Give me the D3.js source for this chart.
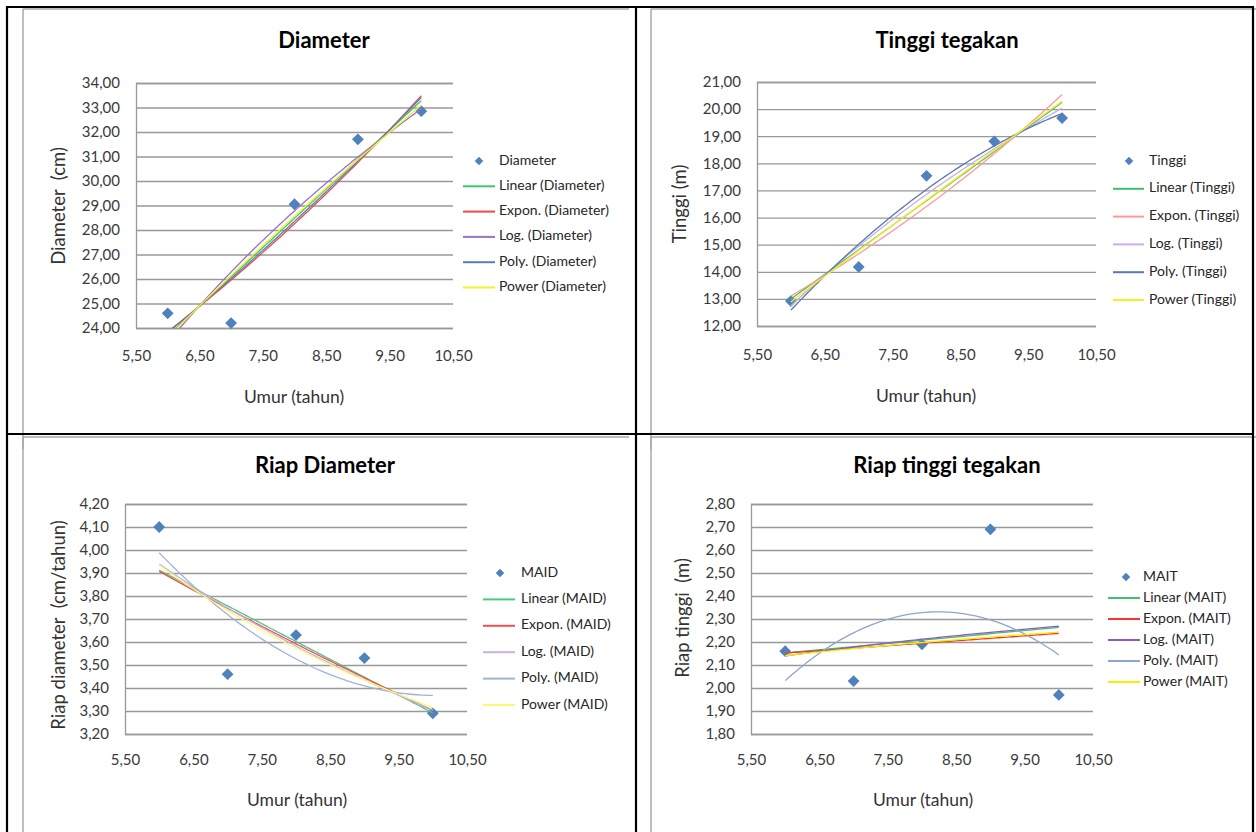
<!DOCTYPE html>
<html>
<head>
<meta charset="utf-8">
<script src="https://cdn.jsdelivr.net/npm/d3@7"></script>
<style>
  body { margin: 0; background: #fff; }
  svg { display: block; font-family: Lato, "Open Sans", sans-serif; }
</style>
</head>
<body>
<svg id="page" width="1256" height="832"></svg>
<script>
// data
var umur = [6, 7, 8, 9, 10];
var diameter = [24.6, 24.2, 29.05, 31.7, 32.85];
var tinggi = [12.92, 14.18, 17.54, 18.81, 19.67];
var maid = [4.10, 3.46, 3.63, 3.53, 3.29];
var mait = [2.16, 2.03, 2.19, 2.69, 1.97];

var xTicks = [5.5, 6.5, 7.5, 8.5, 9.5, 10.5];
var diameterTicks = [24, 25, 26, 27, 28, 29, 30, 31, 32, 33, 34];
var tinggiTicks = [12, 13, 14, 15, 16, 17, 18, 19, 20, 21];
var maidTicks = [3.2, 3.3, 3.4, 3.5, 3.6, 3.7, 3.8, 3.9, 4.0, 4.1, 4.2];
var maitTicks = [1.8, 1.9, 2.0, 2.1, 2.2, 2.3, 2.4, 2.5, 2.6, 2.7, 2.8];

var trendTypes = ["Linear", "Expon.", "Log.", "Poly.", "Power"];

var svg = d3.select("#page");
var fmt = d3.formatLocale({decimal: ",", thousands: ".", grouping: [3], currency: ["", ""]}).format(".2f");

// least squares on a small basis
function lsq(rows, ys) {
  var k = rows[0].length, A = [], i, j, r;
  for (i = 0; i < k; i++) { A.push(new Array(k + 1).fill(0)); }
  rows.forEach(function(row, n) {
    for (i = 0; i < k; i++) {
      for (j = 0; j < k; j++) A[i][j] += row[i] * row[j];
      A[i][k] += row[i] * ys[n];
    }
  });
  for (i = 0; i < k; i++) {
    for (r = i + 1; r < k; r++) {
      var f = A[r][i] / A[i][i];
      for (j = i; j <= k; j++) A[r][j] -= f * A[i][j];
    }
  }
  var c = new Array(k).fill(0);
  for (i = k - 1; i >= 0; i--) {
    var s = A[i][k];
    for (j = i + 1; j < k; j++) s -= A[i][j] * c[j];
    c[i] = s / A[i][i];
  }
  return c;
}

function trend(type, xs, ys) {
  var c;
  if (type === "Linear") { c = lsq(xs.map(function(x) { return [1, x]; }), ys); return function(x) { return c[0] + c[1] * x; }; }
  if (type === "Expon.") { c = lsq(xs.map(function(x) { return [1, x]; }), ys.map(Math.log)); return function(x) { return Math.exp(c[0] + c[1] * x); }; }
  if (type === "Log.") { c = lsq(xs.map(function(x) { return [1, Math.log(x)]; }), ys); return function(x) { return c[0] + c[1] * Math.log(x); }; }
  if (type === "Poly.") { c = lsq(xs.map(function(x) { return [1, x, x * x]; }), ys); return function(x) { return c[0] + c[1] * x + c[2] * x * x; }; }
  c = lsq(xs.map(function(x) { return [1, Math.log(x)]; }), ys.map(Math.log));
  return function(x) { return Math.exp(c[0]) * Math.pow(x, c[1]); };
}

var charts = [
  { id: "c1", name: "Diameter", title: "Diameter", ytitle: "Diameter  (cm)", values: diameter, yTicks: diameterTicks,
    frame: [23, 9], plot: {l: 136, r: 453, t: 83, b: 328}, titleAt: [324, 42], xtAt: [294, 399], ytAt: [60, 206], xlabY: 359,
    legend: {mx: 479, lx0: 463, lx1: 495, tx: 499, y0: 161, dy: 25.3},
    colors: ["#3fc470", "#f24848", "#9b70cc", "#5a7db5", "#f5f020"] },
  { id: "c2", name: "Tinggi", title: "Tinggi tegakan", ytitle: "Tinggi (m)", values: tinggi, yTicks: tinggiTicks,
    frame: [651, 9], plot: {l: 757, r: 1096, t: 82, b: 326}, titleAt: [947, 42], xtAt: [926, 398], ytAt: [681, 204], xlabY: 358,
    legend: {mx: 1129, lx0: 1113, lx1: 1144, tx: 1149, y0: 161, dy: 27.8},
    colors: ["#3cc070", "#ff9a9a", "#c9aee6", "#5878b0", "#f5f020"] },
  { id: "c3", name: "MAID", title: "Riap Diameter", ytitle: "Riap diameter  (cm/tahun)", values: maid, yTicks: maidTicks,
    frame: [23, 437], plot: {l: 125, r: 467, t: 504, b: 734}, titleAt: [325, 467], xtAt: [297, 802], ytAt: [60, 625], xlabY: 763,
    legend: {mx: 500, lx0: 483, lx1: 515, tx: 521, y0: 573, dy: 26.4},
    colors: ["#4cc880", "#f05050", "#c8b0e6", "#9fb3d6", "#fafa70"] },
  { id: "c4", name: "MAIT", title: "Riap tinggi tegakan", ytitle: "Riap tinggi  (m)", values: mait, yTicks: maitTicks,
    frame: [651, 437], plot: {l: 751, r: 1093, t: 504, b: 734}, titleAt: [947, 467], xtAt: [923, 802], ytAt: [684, 618], xlabY: 763,
    legend: {mx: 1126, lx0: 1108, lx1: 1140, tx: 1143, y0: 577, dy: 21},
    colors: ["#40c070", "#ff3030", "#8e5cc0", "#8fa6cc", "#f5f000"] }
];

// chart frames (grey, clipped by the table cells)
charts.forEach(function(c) {
  var g = svg.append("g");
  g.append("line").attr("x1", c.frame[0]).attr("x2", c.frame[0] + 606).attr("y1", c.frame[1]).attr("y2", c.frame[1])
    .attr("stroke", "#a8a8a8").attr("stroke-width", 1.5);
  g.append("line").attr("x1", c.frame[0]).attr("x2", c.frame[0]).attr("y1", c.frame[1]).attr("y2", c.frame[1] + 440)
    .attr("stroke", "#a8a8a8").attr("stroke-width", 1.5);
});

charts.forEach(function(c) {
  var g = svg.append("g").attr("class", c.id);
  var x = d3.scaleLinear().domain([xTicks[0], xTicks[xTicks.length - 1]]).range([c.plot.l, c.plot.r]);
  var y = d3.scaleLinear().domain([c.yTicks[0], c.yTicks[c.yTicks.length - 1]]).range([c.plot.b, c.plot.t]);

  // gridlines and y labels
  var yAxis = d3.axisLeft(y).tickValues(c.yTicks).tickFormat(fmt)
    .tickSize(-(c.plot.r - c.plot.l)).tickPadding(16);
  var ya = g.append("g").attr("transform", "translate(" + c.plot.l + ",0)").call(yAxis);
  ya.select(".domain").attr("stroke", "#999").attr("stroke-width", 1.3);
  ya.selectAll(".tick line").attr("stroke", "#999").attr("stroke-width", 1.3);
  ya.selectAll(".tick text").attr("fill", "#3a3a3a").style("font-size", "15px").style("font-family", "Lato, sans-serif");

  // x labels
  var xAxis = d3.axisBottom(x).tickValues(xTicks).tickFormat(fmt).tickSize(0);
  var xa = g.append("g").attr("transform", "translate(0," + (c.xlabY - 8) + ")").call(xAxis);
  xa.select(".domain").remove();
  xa.selectAll(".tick text").attr("fill", "#3a3a3a").attr("dy", 0).attr("y", 6).style("font-size", "15px")
    .style("font-family", "Lato, sans-serif").attr("dominant-baseline", "middle");

  // points
  g.append("g").selectAll("path").data(umur).join("path")
    .attr("d", d3.symbol().type(d3.symbolSquare).size(70))
    .attr("transform", function(d, i) { return "translate(" + x(d) + "," + y(c.values[i]) + ") rotate(45)"; })
    .attr("fill", "#4f81bd");

  // trendlines
  var clipId = "clip-" + c.id;
  g.append("clipPath").attr("id", clipId).append("rect")
    .attr("x", c.plot.l).attr("y", c.plot.t).attr("width", c.plot.r - c.plot.l).attr("height", c.plot.b - c.plot.t);
  var samples = d3.range(0, 101).map(function(i) { return umur[0] + (umur[umur.length - 1] - umur[0]) * i / 100; });
  var line = d3.line().x(function(d) { return x(d[0]); }).y(function(d) { return y(d[1]); });
  trendTypes.forEach(function(t, k) {
    var f = trend(t, umur, c.values);
    g.append("path").attr("clip-path", "url(#" + clipId + ")")
      .attr("d", line(samples.map(function(s) { return [s, f(s)]; })))
      .attr("fill", "none").attr("stroke", c.colors[k]).attr("stroke-width", 1.3);
  });

  // titles
  g.append("text").attr("x", c.titleAt[0]).attr("y", c.titleAt[1]).attr("text-anchor", "middle")
    .attr("dominant-baseline", "middle").style("font-size", "22px").style("font-weight", "bold").attr("fill", "#000")
    .text(c.title);
  g.append("text").attr("x", c.xtAt[0]).attr("y", c.xtAt[1]).attr("text-anchor", "middle")
    .attr("dominant-baseline", "middle").style("font-size", "17.5px").attr("fill", "#333").text("Umur (tahun)");
  g.append("text").attr("transform", "translate(" + c.ytAt[0] + "," + c.ytAt[1] + ") rotate(-90)")
    .attr("text-anchor", "middle").attr("dominant-baseline", "middle").style("font-size", "18.5px")
    .attr("fill", "#333").style("white-space", "pre").text(c.ytitle);

  // legend
  var L = c.legend;
  g.append("path").attr("d", d3.symbol().type(d3.symbolSquare).size(36))
    .attr("transform", "translate(" + L.mx + "," + L.y0 + ") rotate(45)").attr("fill", "#4f81bd");
  var labels = [c.name].concat(trendTypes.map(function(t) { return t + " (" + c.name + ")"; }));
  labels.forEach(function(lab, i) {
    var yy = L.y0 + i * L.dy;
    if (i > 0) {
      g.append("line").attr("x1", L.lx0).attr("x2", L.lx1).attr("y1", yy).attr("y2", yy)
        .attr("stroke", c.colors[i - 1]).attr("stroke-width", 2);
    }
    g.append("text").attr("x", L.tx).attr("y", yy).attr("dominant-baseline", "middle")
      .style("font-size", "14px").attr("fill", "#262626").text(lab);
  });
});

// table borders
var border = svg.append("g").attr("stroke", "#000").attr("stroke-width", 2.2);
border.append("line").attr("x1", 7).attr("x2", 1253).attr("y1", 7).attr("y2", 7);
border.append("line").attr("x1", 7).attr("x2", 1253).attr("y1", 434).attr("y2", 434);
border.append("line").attr("x1", 7).attr("x2", 7).attr("y1", 6).attr("y2", 832);
border.append("line").attr("x1", 636).attr("x2", 636).attr("y1", 6).attr("y2", 832);
border.append("line").attr("x1", 1253).attr("x2", 1253).attr("y1", 6).attr("y2", 832);
</script>
</body>
</html>
